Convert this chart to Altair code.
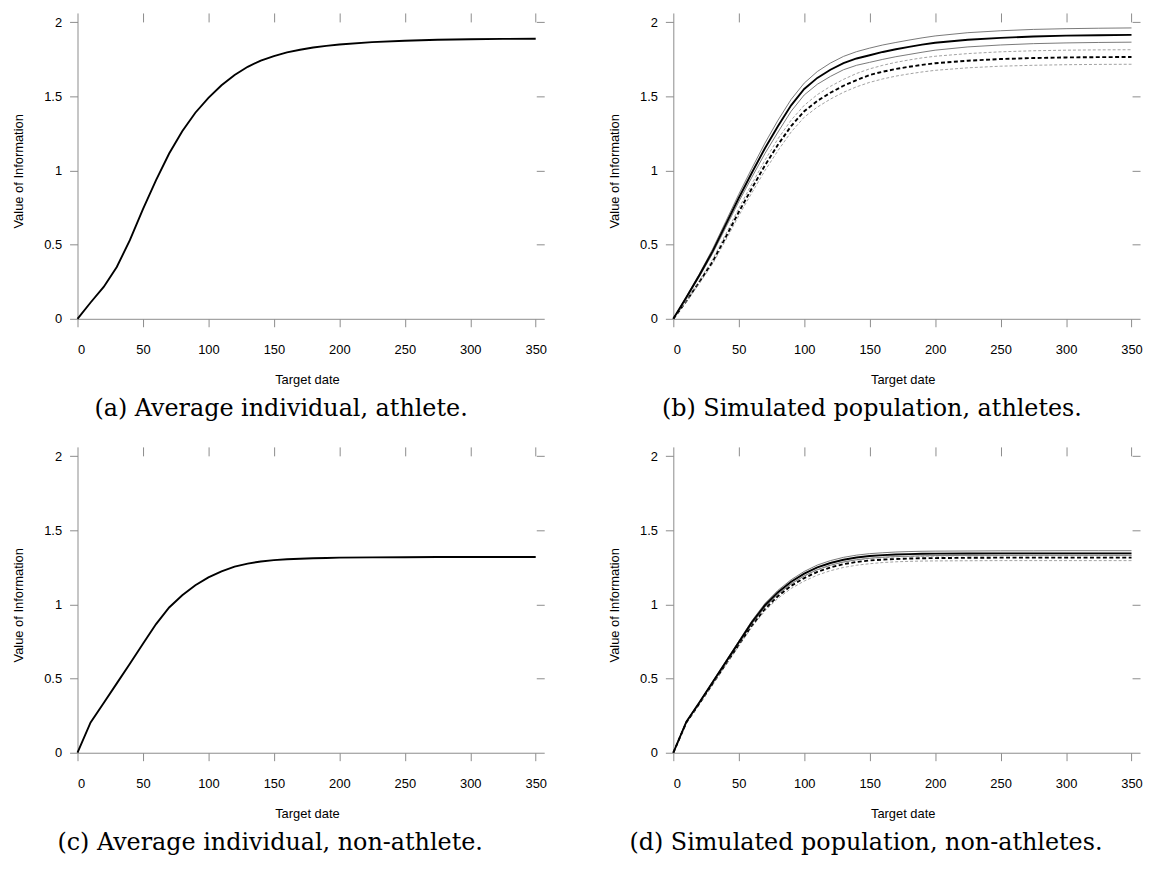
import altair as alt
import pandas as pd

# Target dates (x grid)
X = [0, 10, 20, 30, 40, 50, 60, 70, 80, 90, 100, 110, 120, 130, 140, 150,
     160, 170, 180, 190, 200, 225, 250, 275, 300, 325, 350]

# (a) Average individual, athlete
A_AVG = [0, 0.11, 0.215, 0.35, 0.53, 0.74, 0.935, 1.115, 1.265, 1.39, 1.49, 1.575, 1.645,
         1.70, 1.742, 1.772, 1.797, 1.815, 1.83, 1.841, 1.85, 1.866, 1.876, 1.882, 1.886,
         1.888, 1.889]

# (b) Simulated population, athletes
B_SOLID = [0, 0.145, 0.295, 0.455, 0.635, 0.815, 0.985, 1.15, 1.30, 1.44, 1.55, 1.625, 1.68,
           1.725, 1.756, 1.778, 1.80, 1.818, 1.834, 1.849, 1.862, 1.882, 1.895, 1.904, 1.91,
           1.913, 1.915]
B_SOLID_HI = [0, 0.15, 0.305, 0.47, 0.655, 0.84, 1.015, 1.185, 1.34, 1.48, 1.59, 1.668, 1.725,
              1.77, 1.802, 1.826, 1.847, 1.864, 1.88, 1.895, 1.908, 1.93, 1.943, 1.952, 1.957,
              1.96, 1.962]
B_SOLID_LO = [0, 0.14, 0.285, 0.44, 0.615, 0.79, 0.955, 1.115, 1.26, 1.40, 1.51, 1.582, 1.635,
              1.68, 1.71, 1.73, 1.75, 1.768, 1.783, 1.798, 1.812, 1.834, 1.847, 1.856, 1.861,
              1.864, 1.866]
B_DASH = [0, 0.12, 0.25, 0.385, 0.55, 0.72, 0.88, 1.035, 1.175, 1.30, 1.40, 1.47, 1.525,
          1.572, 1.61, 1.645, 1.667, 1.685, 1.70, 1.713, 1.724, 1.741, 1.752, 1.759, 1.763,
          1.765, 1.766]
B_DASH_HI = [0, 0.125, 0.26, 0.40, 0.57, 0.745, 0.91, 1.07, 1.215, 1.34, 1.44, 1.512, 1.568,
             1.615, 1.655, 1.686, 1.71, 1.73, 1.746, 1.76, 1.771, 1.789, 1.801, 1.808, 1.812,
             1.814, 1.815]
B_DASH_LO = [0, 0.115, 0.24, 0.37, 0.53, 0.695, 0.85, 1.0, 1.135, 1.26, 1.36, 1.428, 1.482,
             1.528, 1.565, 1.595, 1.618, 1.637, 1.652, 1.665, 1.676, 1.693, 1.704, 1.71, 1.714,
             1.716, 1.717]

# (c) Average individual, non-athlete
C_AVG = [0, 0.205, 0.335, 0.468, 0.60, 0.735, 0.868, 0.98, 1.062, 1.13, 1.183, 1.224, 1.255,
         1.276, 1.29, 1.299, 1.305, 1.309, 1.312, 1.314, 1.316, 1.318, 1.319, 1.32, 1.32,
         1.32, 1.32]

# (d) Simulated population, non-athletes
D_SOLID = [0, 0.21, 0.34, 0.475, 0.61, 0.745, 0.88, 0.995, 1.083, 1.153, 1.208, 1.25, 1.28,
           1.302, 1.317, 1.327, 1.333, 1.337, 1.34, 1.342, 1.343, 1.344, 1.345, 1.345, 1.345,
           1.345, 1.345]
D_SOLID_HI = [0, 0.212, 0.343, 0.48, 0.617, 0.753, 0.89, 1.007, 1.096, 1.167, 1.223, 1.266,
              1.296, 1.318, 1.333, 1.343, 1.349, 1.354, 1.357, 1.359, 1.36, 1.361, 1.362,
              1.362, 1.363, 1.363, 1.363]
D_SOLID_LO = [0, 0.208, 0.337, 0.47, 0.603, 0.737, 0.87, 0.983, 1.07, 1.139, 1.193, 1.235,
              1.265, 1.287, 1.302, 1.312, 1.319, 1.323, 1.326, 1.328, 1.33, 1.331, 1.332,
              1.332, 1.332, 1.332, 1.332]
D_DASH = [0, 0.205, 0.333, 0.465, 0.597, 0.728, 0.858, 0.97, 1.057, 1.126, 1.178, 1.22, 1.25,
          1.272, 1.287, 1.297, 1.303, 1.307, 1.31, 1.312, 1.313, 1.315, 1.316, 1.316, 1.316,
          1.316, 1.316]
D_DASH_HI = [0, 0.207, 0.336, 0.47, 0.603, 0.736, 0.867, 0.981, 1.069, 1.139, 1.192, 1.234,
             1.264, 1.286, 1.301, 1.311, 1.317, 1.321, 1.324, 1.326, 1.327, 1.329, 1.33,
             1.33, 1.33, 1.33, 1.33]
D_DASH_LO = [0, 0.203, 0.33, 0.46, 0.59, 0.72, 0.848, 0.957, 1.042, 1.108, 1.158, 1.198, 1.228,
             1.25, 1.265, 1.275, 1.283, 1.288, 1.291, 1.293, 1.294, 1.295, 1.296, 1.296,
             1.296, 1.296, 1.296]

X_TICKS = [0, 50, 100, 150, 200, 250, 300, 350]
Y_TICKS = [0, 0.5, 1, 1.5, 2]

CAPTIONS = ["(a) Average individual, athlete.",
            "(b) Simulated population, athletes.",
            "(c) Average individual, non-athlete.",
            "(d) Simulated population, non-athletes."]

# styles
THICK = dict(color="#000000", strokeWidth=1.9)
THIN = dict(color="#6a6a6a", strokeWidth=0.9)
THICK_DASH = dict(color="#000000", strokeWidth=1.9, strokeDash=[4, 2.5])
THIN_DASH = dict(color="#8a8a8a", strokeWidth=0.8, strokeDash=[3, 2])

W, H = 470, 308
xscale = alt.Scale(domain=[0, 356.5], nice=False, zero=False)
yscale = alt.Scale(domain=[0, 2.063], nice=False, zero=False)

bottom_ax = alt.Axis(orient="bottom", values=X_TICKS, title="Target date", tickSize=8,
                     labelPadding=17, titlePadding=17, grid=False, titleX=231)
left_ax = alt.Axis(orient="left", values=Y_TICKS, title="Value of Information", tickSize=8,
                   labelPadding=8, titlePadding=18, grid=False, labelExpr="datum.value + ''",
                   titleY=159)
top_ax = alt.Axis(orient="top", values=X_TICKS[1:], labels=False, domain=False, tickSize=9,
                  offset=-9, title=None, grid=False)
right_ax = alt.Axis(orient="right", values=Y_TICKS[1:], labels=False, domain=False, tickSize=8,
                    offset=-8, title=None, grid=False)


def panel(series, caption, dx):
    layers = []
    for i, (vals, style) in enumerate(series):
        df = pd.DataFrame({"x": X, "y": vals})
        if i == 0:
            enc = dict(x=alt.X("x:Q", scale=xscale, axis=bottom_ax),
                       y=alt.Y("y:Q", scale=yscale, axis=left_ax))
        else:
            enc = dict(x=alt.X("x:Q", scale=xscale, axis=None),
                       y=alt.Y("y:Q", scale=yscale, axis=None))
        layers.append(alt.Chart(df).mark_line(**style).encode(**enc))
    df0 = pd.DataFrame({"x": X, "y": series[0][0]})
    ticks = alt.Chart(df0).mark_line(strokeOpacity=0).encode(
        x=alt.X("x:Q", scale=xscale, axis=top_ax),
        y=alt.Y("y:Q", scale=yscale, axis=right_ax))
    # draw thick lines last (on top)
    ordered = layers[1:] + layers[:1]
    return alt.layer(*ordered, ticks).resolve_axis(x="independent", y="independent").properties(
        width=W, height=H,
        title=alt.Title(caption, orient="bottom", anchor="middle", frame="group", dx=dx,
                        offset=11, font="DejaVu Serif", fontSize=24, fontWeight="normal",
                        color="#000000"))


pa = panel([(A_AVG, THICK)], CAPTIONS[0], -30)
pb = panel([(B_SOLID, THICK), (B_SOLID_HI, THIN), (B_SOLID_LO, THIN),
            (B_DASH, THICK_DASH), (B_DASH_HI, THIN_DASH), (B_DASH_LO, THIN_DASH)],
           CAPTIONS[1], -35)
pc = panel([(C_AVG, THICK)], CAPTIONS[2], -41)
pd_ = panel([(D_SOLID, THICK), (D_SOLID_HI, THIN), (D_SOLID_LO, THIN),
             (D_DASH, THICK_DASH), (D_DASH_HI, THIN_DASH), (D_DASH_LO, THIN_DASH)],
            CAPTIONS[3], -41)

chart = alt.vconcat(
    alt.hconcat(pa, pb, spacing=61),
    alt.hconcat(pc, pd_, spacing=61),
    spacing=25,
).properties(
    padding={"left": 4, "top": 1, "right": 0, "bottom": 0}
).configure_view(stroke=None).configure_axis(
    domainColor="#8c8c8c", tickColor="#8c8c8c", domainWidth=1, tickWidth=1,
    labelColor="#000000", labelFont="Liberation Sans", labelFontSize=13,
    titleFont="Liberation Sans", titleFontSize=13, titleFontWeight="normal",
    titleColor="#000000"
)

chart.save("out.html", embed_options={"renderer": "svg", "actions": False})
